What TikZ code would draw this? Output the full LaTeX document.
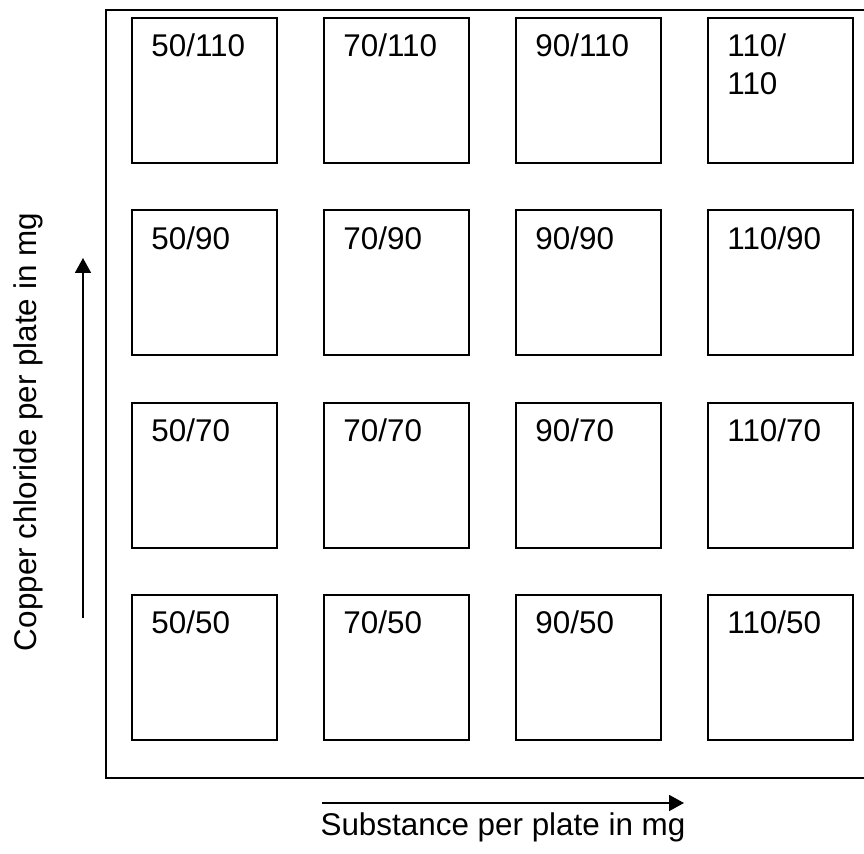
\documentclass[tikz,border=0pt]{standalone}
\usepackage{fontspec}
\setmainfont{Liberation Sans}
\usetikzlibrary{arrows.meta}
\begin{document}
\begin{tikzpicture}[x=0.5pt,y=-0.5pt,
  plate/.style={draw=black,line width=1pt,minimum width=72.5pt,minimum height=72.5pt,inner sep=0pt,anchor=north west},
  platelabel/.style={anchor=base west,inner sep=0pt,font=\fontsize{15.7pt}{19pt}\selectfont,align=left},
  axislabel/.style={inner sep=0pt,anchor=base,font=\fontsize{15.7pt}{19pt}\selectfont},
  frameline/.style={line width=1pt},
  axisarrow/.style={line width=0.9pt,-{Triangle[width=8pt,length=7.5pt]}}]
\useasboundingbox (0,0) rectangle (864,854);
% open frame round the plates
\draw[frameline] (864,10) -- (106,10) -- (106,778) -- (864,778);
% grid of plates: columns = substance, rows = copper chloride
\foreach \s [count=\i from 0] in {50,70,90,110} {
  \foreach \c [count=\j from 0] in {110,90,70,50} {
    \node[plate] (p-\s-\c) at ({131+192*\i},{17+192.3*\j}) {};
  }
}
\foreach \s in {50,70,90} {
  \foreach \c in {110,90,70,50} {
    \node[platelabel] (t-\s-\c) at ([xshift=10pt,yshift=-20pt]p-\s-\c.north west) {\s/\c};
  }
}
\foreach \c in {90,70,50} {
  \node[platelabel] (t-110-\c) at ([xshift=10pt,yshift=-20pt]p-110-\c.north west) {110/\c};
}
% two-line label: the base anchor sits on the second line
\node[platelabel] (t-110-110) at ([xshift=10pt,yshift=-39pt]p-110-110.north west) {110/\\110};
% axis arrows and labels
\coordinate (ya) at (83,618);
\coordinate (yb) at (83,258);
\draw[axisarrow] (ya) -- (yb);
\coordinate (xa) at (322,803);
\coordinate (xb) at (684,803);
\draw[axisarrow] (xa) -- (xb);
\node[axislabel,rotate=90] (ylab) at (37,432) {Copper chloride per plate in mg};
\node[axislabel] (xlab) at (503,836) {Substance per plate in mg};
\end{tikzpicture}
\end{document}
